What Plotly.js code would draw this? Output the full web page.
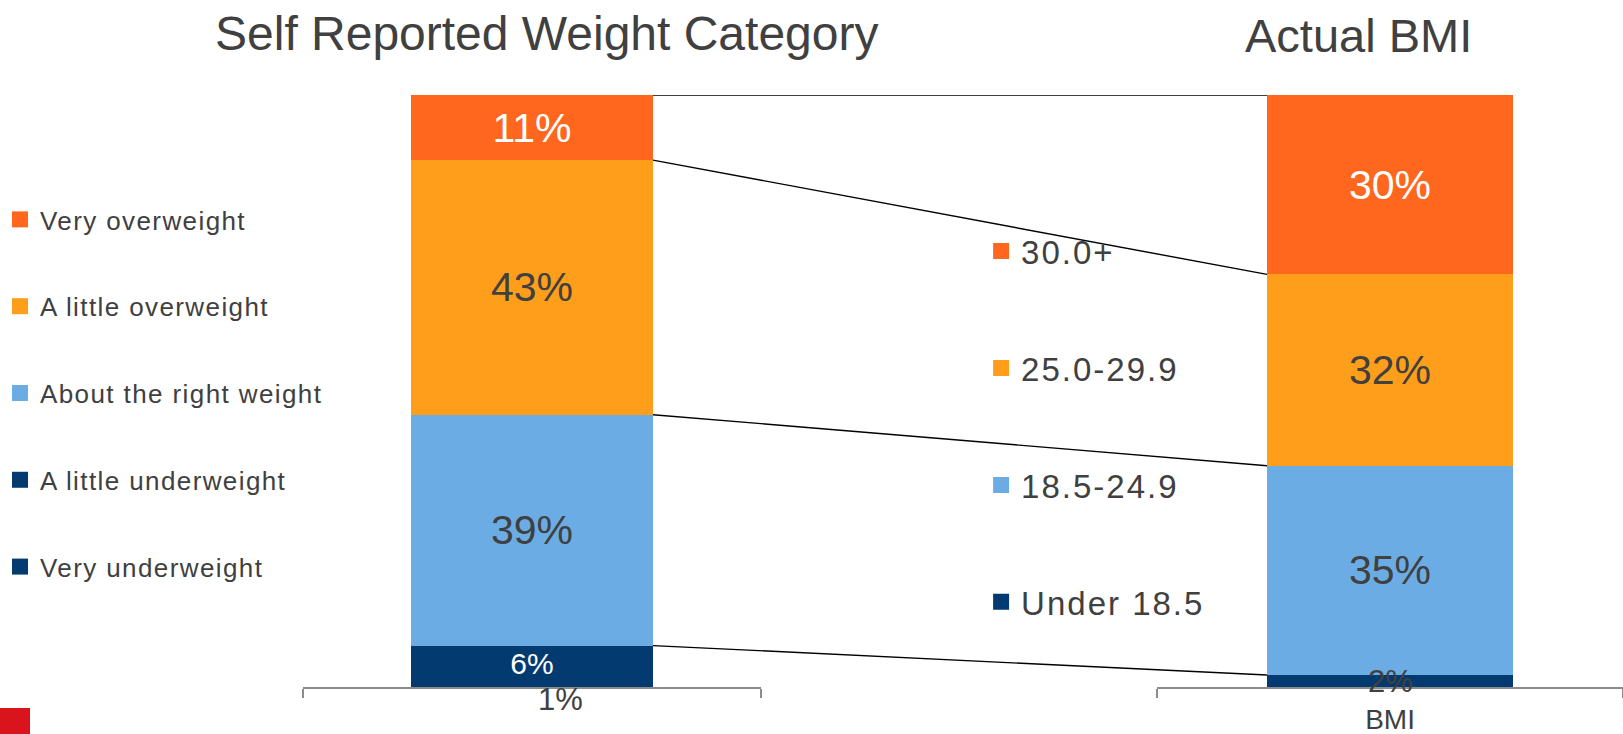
<!DOCTYPE html>
<html><head><meta charset="utf-8">
<script src="https://cdn.plot.ly/plotly-3.0.1.min.js"></script>
<style>
html,body{margin:0;padding:0;background:#fff;}
#chart{width:1623px;height:734px;}
</style></head><body><div id="chart"></div>
<script>
// ---- data ----
const selfCategories = ['Very underweight','A little underweight','About the right weight','A little overweight','Very overweight'];
const selfValues = [1, 6, 39, 43, 11];
const bmiCategories = ['Under 18.5','18.5-24.9','25.0-29.9','30.0+'];
const bmiValues = [2, 35, 32, 30];
const selfAxisLabel = ['Self Reported'];
const bmiAxisLabel = ['BMI'];
const chartTitles = ['Self Reported Weight Category', 'Actual BMI'];

// ---- styles ----
const selfColors = ['#033A70','#033A70','#6CACE4','#FF9E1B','#FF671F'];
const bmiColors = ['#033A70','#6CACE4','#FF9E1B','#FF671F'];
const selfLabelColors = ['#404040','#ffffff','#404040','#404040','#ffffff'];
const selfLabelSizes = [31,30,41,41,41];
const selfLabelOutside = [true,false,false,false,false];
const selfLabelShift = [[28,-15],null,null,null,null];
const bmiLabelColors = ['#404040','#404040','#404040','#ffffff'];
const bmiLabelSizes = [31,41,41,41];
const bmiLabelOutside = [true,false,false,false];
const bmiLabelShift = [[0,0],null,null,null];

const FONT = '"Liberation Sans", Arial, sans-serif';
const TXT = '#404040';
const AXIS = '#8c8c8c';
const leftDom = [0.1867, 0.4689];
const rightDom = [0.7129, 1.0];
const yDom = [0.064, 0.8706];
const BARGAP = 0.472;
const spaced = (t, px) => '<span style="letter-spacing:' + px + 'px">' + t + '</span>';

const sum = a => a.reduce((s,v)=>s+v,0);
const cumulative = a => { let c=0; return a.map(v => (c+=v)); };
const sumL = sum(selfValues), sumR = sum(bmiValues);
const cumL = cumulative(selfValues), cumR = cumulative(bmiValues);

const traces = [];
const annotations = [];

function addStack(values, cats, cat, colors, lColors, lSizes, lOutside, lShift, xa, ya, grp) {
  values.forEach((v,i) => {
    traces.push({
      type:'bar', x: cat, y:[v], xaxis:xa, yaxis:ya,
      name: cats[i], legendgroup:grp+i, showlegend:false,
      marker:{color:colors[i], line:{width:0}},
      text:[v+'%'], textposition: lOutside[i] ? 'none' : 'inside',
      insidetextanchor:'middle', textangle:0, constraintext:'none',
      textfont:{family:FONT, size:lSizes[i], color:lColors[i]},
      hovertemplate: cats[i] + ': %{y}%<extra></extra>'
    });
    if (lOutside[i]) {
      const below = values.slice(0,i).reduce((s,x)=>s+x,0);
      annotations.push({xref:xa, yref:ya, x: cat[0], y: below + v/2, text: v+'%',
        showarrow:false, xshift:lShift[i][0], yshift:lShift[i][1],
        font:{family:FONT, size:lSizes[i], color:lColors[i]}});
    }
  });
}
addStack(selfValues, selfCategories, selfAxisLabel, selfColors, selfLabelColors, selfLabelSizes, selfLabelOutside, selfLabelShift, 'x', 'y', 's');
addStack(bmiValues, bmiCategories, bmiAxisLabel, bmiColors, bmiLabelColors, bmiLabelSizes, bmiLabelOutside, bmiLabelShift, 'x2', 'y2', 'b');

// connector lines between segment boundaries
const barW = 1 - BARGAP;
const leftEdge = leftDom[0] + (leftDom[1]-leftDom[0]) * (0.5 + barW/2);
const rightEdge = rightDom[0] + (rightDom[1]-rightDom[0]) * (0.5 - barW/2);
for (let i = 0; i < bmiValues.length; i++) {
  traces.push({
    type:'scatter', mode:'lines', xaxis:'x3', yaxis:'y3',
    x:[leftEdge, rightEdge], y:[cumL[i+1]/sumL, cumR[i]/sumR],
    line:{color:'#000000', width:1.4}, showlegend:false, hoverinfo:'skip'
  });
}

// legend entries (top-to-bottom order)
for (let i = selfValues.length-1; i >= 0; i--) {
  traces.push({type:'scatter', mode:'markers', xaxis:'x3', yaxis:'y3', x:[null], y:[null],
    name:spaced(selfCategories[i], 1.4), legendgroup:'s'+i, legend:'legend', showlegend:true,
    marker:{symbol:'square', size:16, color:selfColors[i]}, hoverinfo:'skip'});
}
for (let i = bmiValues.length-1; i >= 0; i--) {
  traces.push({type:'scatter', mode:'markers', xaxis:'x3', yaxis:'y3', x:[null], y:[null],
    name:spaced(bmiCategories[i], 2), legendgroup:'b'+i, legend:'legend2', showlegend:true,
    marker:{symbol:'square', size:16, color:bmiColors[i]}, hoverinfo:'skip'});
}

annotations.push({xref:'paper', yref:'paper', x:0.337, y:0.955, xanchor:'center', yanchor:'middle',
  text: chartTitles[0], showarrow:false, font:{family:FONT, size:48, color:TXT}});
annotations.push({xref:'paper', yref:'paper', x:0.8373, y:0.951, xanchor:'center', yanchor:'middle',
  text: chartTitles[1], showarrow:false, font:{family:FONT, size:47, color:TXT}});

const catAxis = (dom, anchor, showLabels) => ({
  domain: dom, anchor: anchor, type:'category', range:[-0.5,0.5],
  showline:true, linecolor:AXIS, linewidth:1.5, ticks:'outside', tickson:'boundaries',
  ticklen:9, tickwidth:1.5, tickcolor:AXIS, showgrid:false, zeroline:false,
  showticklabels: showLabels, ticklabelstandoff: 7,
  tickfont:{family:FONT, size:28, color:TXT}, fixedrange:true
});

const layout = {
  width:1623, height:734,
  margin:{l:0, r:0, t:0, b:0},
  paper_bgcolor:'#ffffff', plot_bgcolor:'rgba(0,0,0,0)',
  font:{family:FONT, color:TXT},
  barmode:'stack', bargap:BARGAP,
  xaxis: catAxis(leftDom, 'y', false),
  yaxis: {domain:yDom, anchor:'x', range:[0,sumL], visible:false, fixedrange:true},
  xaxis2: catAxis(rightDom, 'y2', true),
  yaxis2: {domain:yDom, anchor:'x2', range:[0,sumR], visible:false, fixedrange:true},
  xaxis3: {domain:[0,1], anchor:'y3', range:[0,1], visible:false, fixedrange:true},
  yaxis3: {domain:yDom, anchor:'x3', range:[0,1], visible:false, fixedrange:true},
  legend: {x:0, xanchor:'left', y:0.733, yanchor:'top', bgcolor:'rgba(0,0,0,0)',
    font:{family:FONT, size:26, color:TXT}, traceorder:'grouped', tracegroupgap:50},
  legend2: {x:0.6045, xanchor:'left', y:0.696, yanchor:'top', bgcolor:'rgba(0,0,0,0)',
    font:{family:FONT, size:33, color:TXT}, traceorder:'grouped', tracegroupgap:71},
  annotations: annotations,
  shapes: [{type:'rect', xref:'paper', yref:'paper', x0:0, x1:30/1623, y0:0, y1:26/734,
    fillcolor:'#d9141c', line:{width:0}, layer:'above'}],
  showlegend:true
};

Plotly.newPlot('chart', traces, layout, {displayModeBar:false, responsive:false});
</script></body></html>
